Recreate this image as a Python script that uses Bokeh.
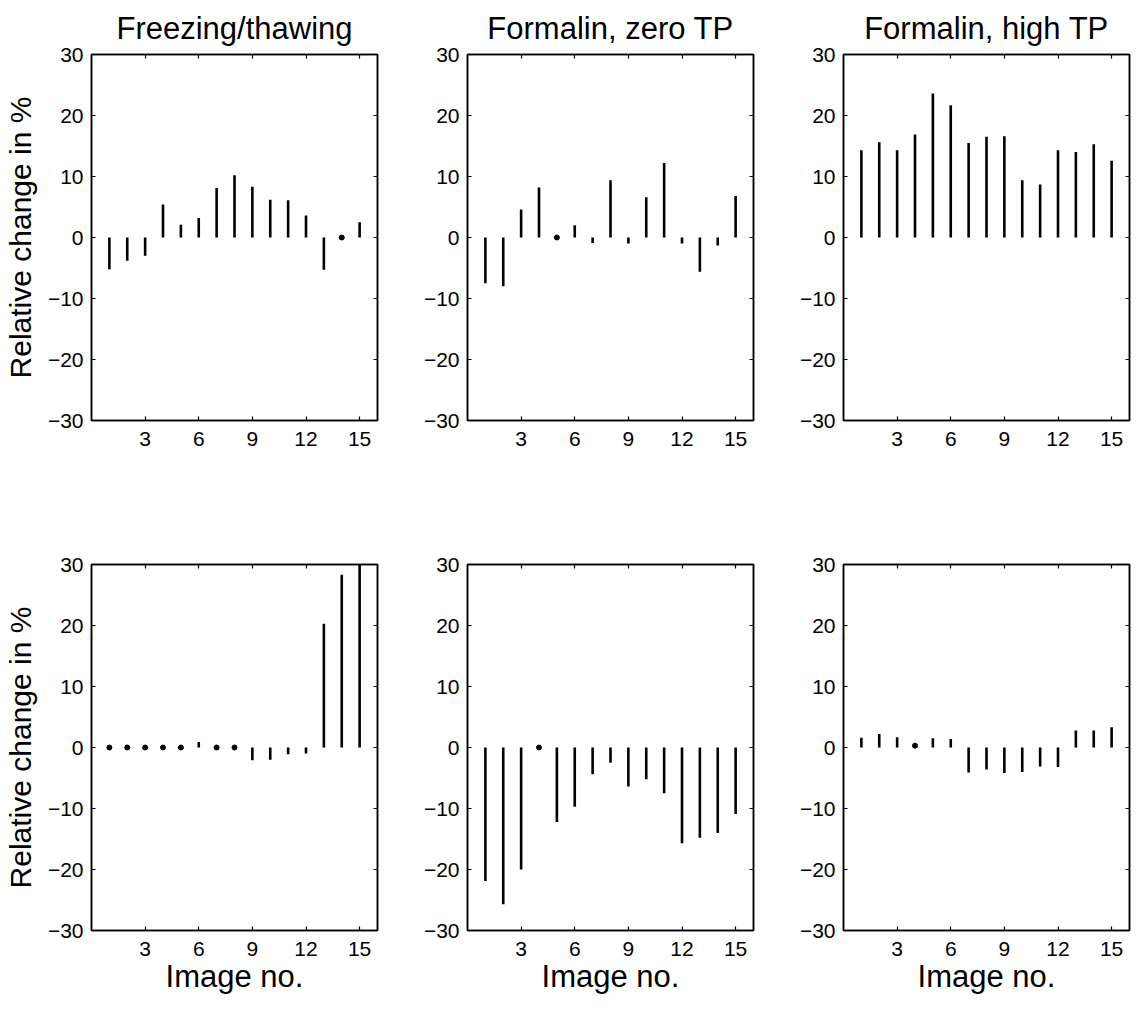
from bokeh.plotting import figure
from bokeh.layouts import column, row
from bokeh.models import LinearAxis, FixedTicker, Range1d
from bokeh.embed import file_html
from bokeh.resources import INLINE

# ---------------- data ----------------
image_no = list(range(1, 16))
titles = ["Freezing/thawing", "Formalin, zero TP", "Formalin, high TP"]
x_ticks = [3, 6, 9, 12, 15]
y_ticks = [-30, -20, -10, 0, 10, 20, 30]
y_tick_labels = ["\u221230", "\u221220", "\u221210", "0", "10", "20", "30"]
y_label = "Relative change in %"
x_label = "Image no."

freezing_top = [-5.2, -3.8, -3.0, 5.4, 2.1, 3.2, 8.1, 10.2, 8.3, 6.2, 6.1, 3.6, -5.3, 0.0, 2.5]
zero_tp_top = [-7.5, -8.0, 4.6, 8.2, 0.0, 2.0, -0.9, 9.4, -1.0, 6.6, 12.2, -1.0, -5.6, -1.3, 6.8]
high_tp_top = [14.3, 15.6, 14.3, 16.9, 23.6, 21.7, 15.5, 16.5, 16.6, 9.4, 8.7, 14.3, 14.0, 15.3, 12.6]

freezing_bot = [0.0, 0.0, 0.0, 0.0, 0.0, 0.9, 0.0, 0.0, -2.1, -2.0, -1.1, -1.0, 20.3, 28.3, 31.0]
zero_tp_bot = [-21.9, -25.7, -20.0, 0.0, -12.2, -9.7, -4.4, -2.5, -6.4, -5.2, -7.5, -15.7, -14.8, -14.0, -10.9]
high_tp_bot = [1.6, 2.2, 1.7, 0.3, 1.5, 1.4, -4.1, -3.6, -4.2, -4.0, -3.1, -3.2, 2.8, 2.8, 3.3]

FONT = "Liberation Sans"
overrides = {t: lab for t, lab in zip(y_ticks, y_tick_labels)}


def style_axis(ax, ticks, labels=True, standoff=8):
    ax.ticker = FixedTicker(ticks=ticks)
    ax.minor_tick_line_color = None
    ax.major_tick_in = 4
    ax.major_tick_out = 0
    ax.axis_line_color = "black"
    ax.axis_line_width = 1.5
    ax.major_tick_line_color = "black"
    ax.major_tick_line_width = 1.2
    if labels:
        ax.major_label_text_font = FONT
        ax.major_label_text_font_size = "21px"
        ax.major_label_text_color = "black"
        ax.major_label_standoff = standoff
    else:
        ax.major_label_text_font_size = "1px"
        ax.major_label_text_color = None
        ax.major_label_standoff = 0


def make_panel(values, col, top):
    p = figure(frame_width=286, frame_height=366,
               x_range=Range1d(0, 16), y_range=Range1d(-30, 30),
               output_backend="svg", toolbar_location=None,
               min_border_left=90 if col == 0 else 86,
               min_border_right=4 if col < 2 else 2,
               min_border_top=54 if top else 86,
               min_border_bottom=58 if top else 72,
               background_fill_color="white", border_fill_color="white")
    p.grid.visible = False
    p.outline_line_color = "black"
    p.outline_line_width = 1.5

    xax = p.xaxis[0]
    yax = p.yaxis[0]
    style_axis(xax, x_ticks, standoff=11)
    style_axis(yax, y_ticks, standoff=8)
    yax.major_label_overrides = overrides

    top_ax = LinearAxis()
    style_axis(top_ax, x_ticks, labels=False)
    p.add_layout(top_ax, "above")
    right_ax = LinearAxis()
    style_axis(right_ax, y_ticks, labels=False)
    p.add_layout(right_ax, "right")

    if col == 0:
        yax.axis_label = y_label
        yax.axis_label_text_font = FONT
        yax.axis_label_text_font_size = "30px"
        yax.axis_label_text_font_style = "normal"
        yax.axis_label_text_color = "black"
        yax.axis_label_standoff = 8
    if not top:
        xax.axis_label = x_label
        xax.axis_label_text_font = FONT
        xax.axis_label_text_font_size = "31px"
        xax.axis_label_text_font_style = "normal"
        xax.axis_label_text_color = "black"
        xax.axis_label_standoff = 0
    if top:
        p.title.text = titles[col]
        p.title.text_font = FONT
        p.title.text_font_size = "31px"
        p.title.text_font_style = "normal"
        p.title.text_color = "black"
        p.title.align = "center"
        p.title.standoff = 17

    p.segment(x0=image_no, y0=0, x1=image_no, y1=values,
              line_color="black", line_width=2.6)
    dots_x = [x for x, v in zip(image_no, values) if abs(v) < 0.5]
    dots_y = [v for v in values if abs(v) < 0.5]
    p.scatter(dots_x, dots_y, marker="circle", size=5,
              fill_color="black", line_color="black")
    return p


top_vals = [freezing_top, zero_tp_top, high_tp_top]
bot_vals = [freezing_bot, zero_tp_bot, high_tp_bot]
top_row = row(*[make_panel(v, i, True) for i, v in enumerate(top_vals)])
bot_row = row(*[make_panel(v, i, False) for i, v in enumerate(bot_vals)])
layout = column(top_row, bot_row)

open("out.html", "w").write(file_html(layout, INLINE))
